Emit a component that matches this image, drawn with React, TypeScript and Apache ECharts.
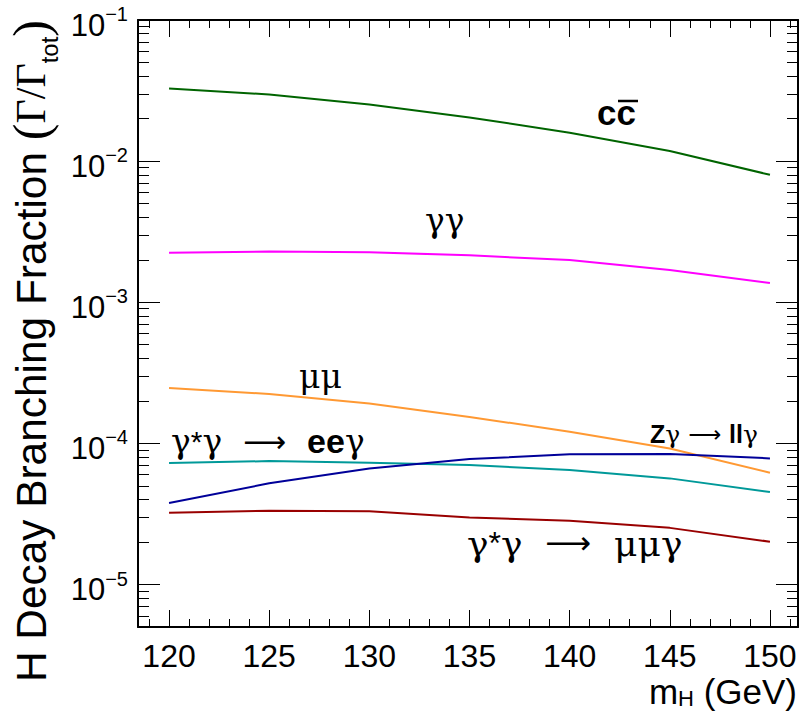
import React, { useEffect, useRef } from "react";
import * as echarts from "echarts";

// ---- data ----
const massPoints = [120, 125, 130, 135, 140, 145, 150];
const brCC = [0.0327, 0.0297, 0.0252, 0.0204, 0.0159, 0.0118, 0.008];
const brGammaGamma = [2.24e-3, 2.29e-3, 2.26e-3, 2.15e-3, 1.99e-3, 1.69e-3, 1.37e-3];
const brMuMu = [2.47e-4, 2.24e-4, 1.92e-4, 1.54e-4, 1.21e-4, 9.2e-5, 6.2e-5];
const brEEGamma = [7.25e-5, 7.49e-5, 7.29e-5, 7.02e-5, 6.47e-5, 5.65e-5, 4.52e-5];
const brZGammaLLGamma = [3.78e-5, 5.21e-5, 6.65e-5, 7.74e-5, 8.36e-5, 8.4e-5, 7.83e-5];
const brMuMuGamma = [3.22e-5, 3.33e-5, 3.3e-5, 2.99e-5, 2.83e-5, 2.52e-5, 2.01e-5];

const xMajorTicks = [120, 125, 130, 135, 140, 145, 150];
const xMinorTicks = [
  119, 121, 122, 123, 124, 126, 127, 128, 129, 131, 132, 133, 134, 136, 137, 138, 139,
  141, 142, 143, 144, 146, 147, 148, 149, 151,
];
const yMajorTicks = [1e-5, 1e-4, 1e-3, 1e-2, 1e-1];
const yMinorTicks = [
  6e-6, 7e-6, 8e-6, 9e-6,
  2e-5, 3e-5, 4e-5, 5e-5, 6e-5, 7e-5, 8e-5, 9e-5,
  2e-4, 3e-4, 4e-4, 5e-4, 6e-4, 7e-4, 8e-4, 9e-4,
  2e-3, 3e-3, 4e-3, 5e-3, 6e-3, 7e-3, 8e-3, 9e-3,
  2e-2, 3e-2, 4e-2, 5e-2, 6e-2, 7e-2, 8e-2, 9e-2,
];

const X_MIN = 118.45;
const X_MAX = 151.4;
const Y_MIN = 5e-6;
const Y_MAX = 0.1;

const SANS = '"Liberation Sans", Arial, Helvetica, sans-serif';
const NARROW = '"Liberation Sans Narrow", "Liberation Sans", Arial, sans-serif';
const SERIF = '"Liberation Serif", "Times New Roman", serif';
const GREEK = '"DejaVu Serif", "Liberation Serif", serif';
const ARROW = '"DejaVu Sans", "Liberation Sans", sans-serif';

const seriesDefs = [
  { name: "cc", data: brCC, color: "#006400" },
  { name: "γγ", data: brGammaGamma, color: "#ff00ff" },
  { name: "μμ", data: brMuMu, color: "#ff9933" },
  { name: "γ*γ → eeγ", data: brEEGamma, color: "#009999" },
  { name: "Zγ → llγ", data: brZGammaLLGamma, color: "#000099" },
  { name: "γ*γ → μμγ", data: brMuMuGamma, color: "#990000" },
];

function xAxisDef(position: "top" | "bottom", ticks: number[], len: number, withLine: boolean, withLabels: boolean) {
  return {
    type: "value",
    min: X_MIN,
    max: X_MAX,
    position,
    axisLine: { show: withLine, onZero: false, lineStyle: { color: "#000", width: 2 } },
    axisTick: { show: true, inside: true, length: len, customValues: ticks, lineStyle: { color: "#000", width: 1 } },
    axisLabel: withLabels
      ? { show: true, customValues: ticks, fontSize: 32, lineHeight: 28, fontFamily: NARROW, color: "#000", margin: 15 }
      : { show: false },
    splitLine: { show: false },
  };
}

function yAxisDef(position: "left" | "right", ticks: number[], len: number, withLine: boolean, withLabels: boolean) {
  return {
    type: "log",
    logBase: 10,
    min: Y_MIN,
    max: Y_MAX,
    position,
    axisLine: { show: withLine, onZero: false, lineStyle: { color: "#000", width: 2 } },
    axisTick: { show: true, inside: true, length: len, customValues: ticks, lineStyle: { color: "#000", width: 1 } },
    axisLabel: withLabels
      ? {
          show: true,
          customValues: ticks,
          margin: 10,
          color: "#000",
          formatter: (v: number) => {
            const e = Math.round(Math.log10(v));
            return "{b|10}{s|\u2212" + Math.abs(e) + "}";
          },
          rich: {
            b: { fontSize: 31, fontFamily: NARROW, color: "#000", padding: [10, 0, 0, 0] },
            s: { fontSize: 20, fontFamily: NARROW, color: "#000", padding: [0, 0, 12, 0] },
          },
        }
      : { show: false },
    splitLine: { show: false },
  };
}

export default function App() {
  const ref = useRef<HTMLDivElement>(null);

  useEffect(() => {
    if (!ref.current) return;
    const chart = echarts.init(ref.current, null, { renderer: "svg" });

    const option: any = {
      animation: false,
      backgroundColor: "#fff",
      grid: { left: 138, right: 4, top: 20, bottom: 88, containLabel: false },
      xAxis: [
        xAxisDef("bottom", xMajorTicks, 17, true, true),
        xAxisDef("bottom", xMinorTicks, 8, false, false),
        xAxisDef("top", xMajorTicks, 17, true, false),
        xAxisDef("top", xMinorTicks, 8, false, false),
      ],
      yAxis: [
        yAxisDef("left", yMajorTicks, 22, true, true),
        yAxisDef("left", yMinorTicks, 11, false, false),
        yAxisDef("right", yMajorTicks, 22, true, false),
        yAxisDef("right", yMinorTicks, 11, false, false),
      ],
      series: seriesDefs.map((s) => ({
        type: "line",
        name: s.name,
        xAxisIndex: 0,
        yAxisIndex: 0,
        showSymbol: false,
        symbol: "none",
        smooth: false,
        lineStyle: { color: s.color, width: 2 },
        itemStyle: { color: s.color },
        data: massPoints.map((m, i) => [m, s.data[i]]),
      })),
      graphic: [
        // y-axis title (rotated)
        {
          type: "text",
          x: 31,
          y: 20,
          rotation: Math.PI / 2,
          style: {
            text: "{a|H Decay Branching Fraction }{p|(}{g|Γ/Γ}{t|tot}{p|)}",
            align: "right",
            verticalAlign: "middle",
            fill: "#000",
            rich: {
              a: { fontSize: 42.4, fontFamily: SANS, fill: "#000" },
              p: { fontSize: 50, fontFamily: SERIF, fill: "#000" },
              g: { fontSize: 42, fontFamily: SERIF, fill: "#000" },
              t: { fontSize: 24, fontFamily: SANS, fill: "#000", padding: [36, 0, 0, 0] },
            },
          },
        },
        // x-axis title
        {
          type: "text",
          x: 797,
          y: 691,
          style: {
            text: "{a|m}{t|H}{a| (GeV)}",
            align: "right",
            verticalAlign: "middle",
            fill: "#000",
            rich: {
              a: { fontSize: 35, lineHeight: 36, fontFamily: NARROW, fill: "#000" },
              t: { fontSize: 22, lineHeight: 22, fontFamily: NARROW, fill: "#000", padding: [14, 0, 0, 0] },
            },
          },
        },
        // c c-bar label
        {
          type: "text",
          x: 597,
          y: 112,
          style: { text: "cc", fontSize: 35, fontWeight: "bold", fontFamily: SANS, fill: "#000", align: "left", verticalAlign: "middle" },
        },
        {
          type: "line",
          shape: { x1: 618, y1: 101, x2: 638, y2: 101 },
          style: { stroke: "#000", lineWidth: 2.5 },
        },
        // γγ
        {
          type: "text",
          x: 425,
          y: 220,
          style: { text: "γγ", fontSize: 33, fontFamily: GREEK, fill: "#000", align: "left", verticalAlign: "middle" },
        },
        // μμ
        {
          type: "text",
          x: 299,
          y: 376,
          style: { text: "μμ", fontSize: 33, fontFamily: GREEK, fill: "#000", align: "left", verticalAlign: "middle" },
        },
        // γ*γ → eeγ
        {
          type: "text",
          x: 171,
          y: 441,
          style: {
            text: "{g|γ}{n|*}{g|γ  }{r|⟶}{g|  }{b|ee}{g|γ}",
            align: "left",
            verticalAlign: "middle",
            fill: "#000",
            rich: {
              g: { fontSize: 33, fontFamily: GREEK, fill: "#000" },
              n: { fontSize: 30, fontFamily: SANS, fill: "#000" },
              r: { fontSize: 30, fontFamily: ARROW, fill: "#000" },
              b: { fontSize: 34, fontFamily: SANS, fontWeight: "bold", fill: "#000" },
            },
          },
        },
        // Zγ → llγ
        {
          type: "text",
          x: 650,
          y: 434,
          style: {
            text: "{b|Z}{g|γ }{r|⟶}{g| }{b|ll}{g|γ}",
            align: "left",
            verticalAlign: "middle",
            fill: "#000",
            rich: {
              g: { fontSize: 25, fontFamily: GREEK, fill: "#000" },
              r: { fontSize: 23, fontFamily: ARROW, fill: "#000" },
              b: { fontSize: 25, fontFamily: SANS, fontWeight: "bold", fill: "#000" },
            },
          },
        },
        // γ*γ → μμγ
        {
          type: "text",
          x: 467,
          y: 543,
          style: {
            text: "{g|γ}{n|*}{g|γ  }{r|⟶}{g|  μμγ}",
            align: "left",
            verticalAlign: "middle",
            fill: "#000",
            rich: {
              g: { fontSize: 36, fontFamily: GREEK, fill: "#000" },
              n: { fontSize: 32, fontFamily: SANS, fill: "#000" },
              r: { fontSize: 32, fontFamily: ARROW, fill: "#000" },
            },
          },
        },
      ],
    };

    chart.setOption(option);
    return () => chart.dispose();
  }, []);

  return (
    <div
      ref={ref}
      style={{ position: "fixed", left: 0, top: 0, width: 802, height: 715, background: "#fff" }}
    />
  );
}
